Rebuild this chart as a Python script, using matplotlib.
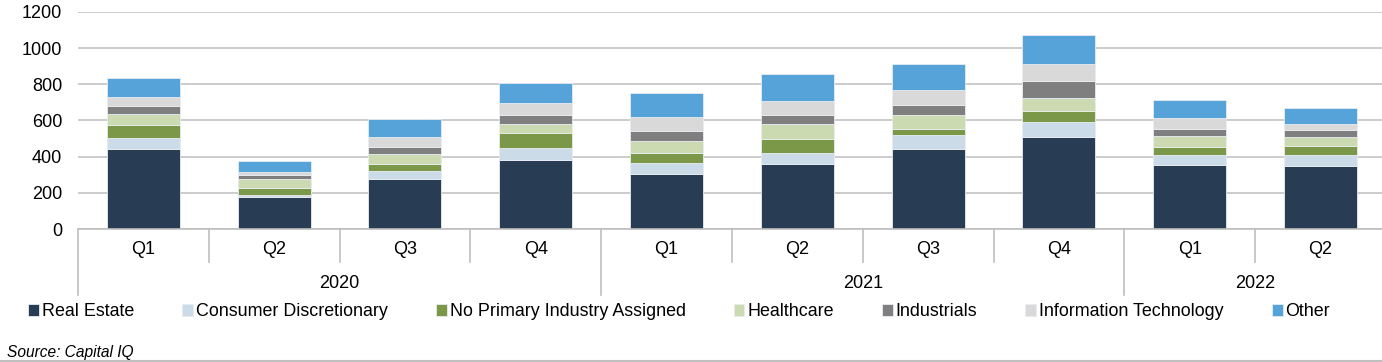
# Stacked quarterly bars by industry, 2020 Q1 - 2022 Q2
import numpy as np
import matplotlib
matplotlib.use("Agg")
import matplotlib.pyplot as plt
import matplotlib.transforms as mtransforms
from matplotlib.lines import Line2D

plt.rcParams['font.family'] = ['Liberation Sans', 'DejaVu Sans']

# ---------- data ----------
quarters = ["Q1", "Q2", "Q3", "Q4", "Q1", "Q2", "Q3", "Q4", "Q1", "Q2"]
years = ["2020", "2020", "2020", "2020", "2021", "2021", "2021", "2021", "2022", "2022"]

series_names = ["Real Estate", "Consumer Discretionary", "No Primary Industry Assigned",
                "Healthcare", "Industrials", "Information Technology", "Other"]

real_estate = [443, 178, 276, 382, 306, 361, 441, 511, 356, 350]
consumer_disc = [61, 11, 45, 66, 57, 58, 78, 83, 51, 61]
no_primary = [72, 39, 38, 84, 57, 79, 35, 56, 47, 50]
healthcare = [60, 48, 54, 51, 65, 85, 74, 74, 61, 48]
industrials = [46, 24, 41, 49, 58, 49, 57, 95, 39, 39]
info_tech = [46, 13, 55, 64, 76, 77, 84, 94, 61, 35]
other = [109, 61, 102, 113, 133, 148, 146, 159, 100, 86]

series_values = [real_estate, consumer_disc, no_primary, healthcare,
                 industrials, info_tech, other]
series_colors = ["#283D54", "#CCDBE8", "#7A9848", "#CCDAB1",
                 "#7F7F7F", "#D9D9D9", "#55A3D9"]

y_ticks = [0, 200, 400, 600, 800, 1000, 1200]

# ---------- layout (pixels of a 1382x362 canvas) ----------
W, H, DPI = 1382, 362, 100
AX_LEFT, AX_TOP, AX_BOTTOM = 78, 12, 229
GRID = "#BFBFBF"
FS = 13

fig = plt.figure(figsize=(W / DPI, H / DPI), dpi=DPI)
ax = fig.add_axes([AX_LEFT / W, 1 - AX_BOTTOM / H, 1 - AX_LEFT / W,
                   (AX_BOTTOM - AX_TOP) / H])

x = np.arange(len(quarters))
bottom = np.zeros(len(quarters))
handles = []
for name, vals, col in zip(series_names, series_values, series_colors):
    vals = np.asarray(vals, dtype=float)
    bc = ax.bar(x, vals, 0.558, bottom=bottom, color=col, edgecolor="#E8ECF1",
                linewidth=0.6, label=name, zorder=3)
    handles.append(bc)
    bottom += vals

ax.set_xlim(-0.5, 9.47)
ax.set_ylim(0, 1200)
ax.set_yticks(y_ticks)
ax.set_yticklabels([str(v) for v in y_ticks], fontsize=FS)
ax.tick_params(axis="y", length=0, pad=11.5)
ax.set_xticks([])
ax.yaxis.grid(True, color=GRID, linewidth=1.1, zorder=0)
ax.set_axisbelow(True)
for s in ["top", "right", "left"]:
    ax.spines[s].set_visible(False)
ax.spines["bottom"].set_color(GRID)
ax.spines["bottom"].set_linewidth(1.2)
ax.spines["bottom"].set_zorder(4)

# ---------- two-level category axis ----------
ax_h = AX_BOTTOM - AX_TOP
trans = mtransforms.blended_transform_factory(ax.transData, ax.transAxes)
q_y = -(249 - AX_BOTTOM) / ax_h
yr_y = -(283 - AX_BOTTOM) / ax_h
q_sep = -(262 - AX_BOTTOM) / ax_h
yr_sep = -(295 - AX_BOTTOM) / ax_h

for xi, q in zip(x, quarters):
    ax.text(xi, q_y, q, transform=trans, ha="center", va="center", fontsize=FS)

# separators between quarters / years
for i in range(len(quarters) + 1):
    xb = i - 0.5
    is_year = i == 0 or i == len(quarters) or years[i] != years[i - 1]
    ax.add_line(Line2D([xb, xb], [0, yr_sep if is_year else q_sep], transform=trans,
                       color=GRID, linewidth=1.2, clip_on=False))

# year labels centred on their group
uniq = []
for yv in years:
    if yv not in uniq:
        uniq.append(yv)
for yv in uniq:
    idx = [i for i, v in enumerate(years) if v == yv]
    ax.text((idx[0] + idx[-1]) / 2, yr_y, yv, transform=trans, ha="center",
            va="center", fontsize=FS)

# ---------- legend ----------
fig.legend(handles=handles, labels=series_names, ncol=7, frameon=False,
           loc="center left", bbox_to_anchor=(28 / W, 1 - 312 / H),
           fontsize=12.9, handlelength=0.6, handleheight=0.6,
           handletextpad=0.17, columnspacing=2.68, borderpad=0, borderaxespad=0)

# ---------- source + bottom rule ----------
fig.text(7 / W, 1 - 353 / H, "Source: Capital IQ", fontsize=11.2, style="italic",
         ha="left", va="center")
fig.add_artist(Line2D([0, 1], [1 - 360.5 / H, 1 - 360.5 / H], transform=fig.transFigure,
                      color=GRID, linewidth=1.5))

fig.savefig("out.png", dpi=DPI)
